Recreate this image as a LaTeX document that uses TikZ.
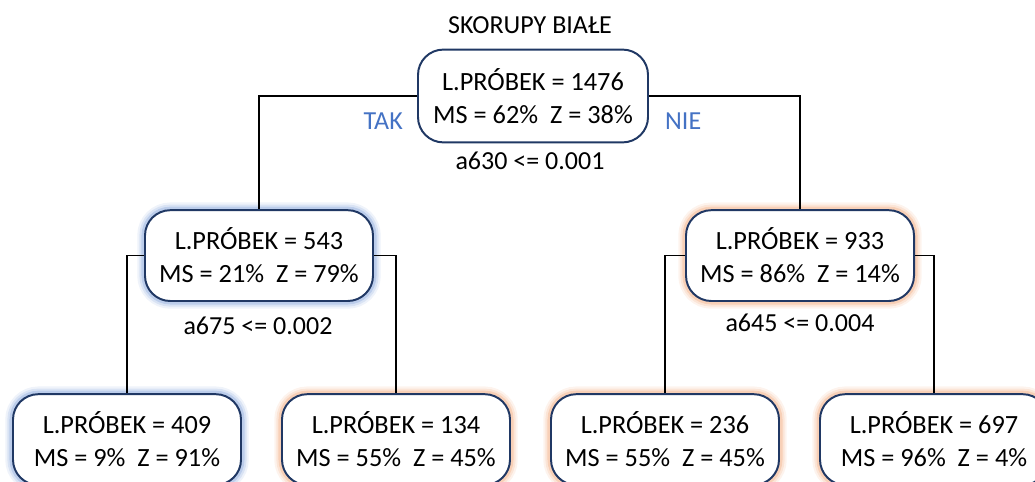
\documentclass[tikz,border=0pt]{standalone}
\usepackage{fontspec}
\setmainfont{Carlito}
\usepackage{xcolor}
\usepackage{tikz}
\usetikzlibrary{positioning}
\definecolor{boxnavy}{RGB}{32,56,100}
\definecolor{glowblue}{RGB}{120,155,215}
\definecolor{gloworange}{RGB}{240,160,110}
\definecolor{answerblue}{RGB}{68,114,196}

\begin{document}
\begin{tikzpicture}[
    treebox/.style={draw=boxnavy, line width=1.4pt, fill=white, rounded corners=18pt,
        align=center, minimum width=5.7cm, minimum height=2.27cm, inner sep=0pt,
        font=\fontsize{18.7}{23.5}\selectfont},
    glowL/.style={preaction={draw=glowblue, line width=11pt, opacity=.12},
        preaction={draw=glowblue, line width=8pt, opacity=.18},
        preaction={draw=glowblue, line width=5pt, opacity=.3}},
    glowR/.style={preaction={draw=gloworange, line width=11pt, opacity=.12},
        preaction={draw=gloworange, line width=8pt, opacity=.18},
        preaction={draw=gloworange, line width=5pt, opacity=.3}},
    cond/.style={font=\fontsize{18.5}{20}\selectfont},
    answer/.style={font=\fontsize{18.5}{20}\selectfont, text=answerblue},
    branch/.style={draw=black, line width=1.2pt}
]
    \useasboundingbox (0,0) rectangle (25.875,-12.05);
    \clip (0,0) rectangle (25.875,-12.05);
    % title
    \node[cond] (title) at (13.25,-0.63) {SKORUPY BIAŁE};
    % root split
    \node[treebox, minimum width=5.75cm, minimum height=2.32cm] (root) at (13.325,-2.4)
        {L.PRÓBEK = 1476\\MS = 62\%\ \ Z = 38\%};
    \node[cond] (c630) at (13.25,-4.03) {a630 <= 0.001};
    \node[answer] (tak) at (9.58,-3.03) {TAK};
    \node[answer] (nie) at (17.08,-3.03) {NIE};
    % second level
    \node[treebox, glowL] (lc) at (6.475,-6.39) {L.PRÓBEK = 543\\MS = 21\%\ \ Z = 79\%};
    \node[treebox, glowR] (rc) at (20.0,-6.39) {L.PRÓBEK = 933\\MS = 86\%\ \ Z = 14\%};
    \node[cond] (c675) at (6.45,-8.15) {a675 <= 0.002};
    \node[cond] (c645) at (20.0,-8.08) {a645 <= 0.004};
    % leaves
    \node[treebox, glowL] (ll) at (3.175,-10.99) {L.PRÓBEK = 409\\MS = 9\%\ \ Z = 91\%};
    \node[treebox, glowR] (lr) at (9.9,-10.99) {L.PRÓBEK = 134\\MS = 55\%\ \ Z = 45\%};
    \node[treebox, glowR] (rl) at (16.625,-10.99) {L.PRÓBEK = 236\\MS = 55\%\ \ Z = 45\%};
    \node[treebox, glowR] (rr) at (23.35,-10.99) {L.PRÓBEK = 697\\MS = 96\%\ \ Z = 4\%};
    % branches
    \draw[branch] (root.west) -| (lc.north);
    \draw[branch] (root.east) -| (rc.north);
    \draw[branch] (lc.west) -| (ll.north);
    \draw[branch] (lc.east) -| (lr.north);
    \draw[branch] (rc.west) -| (rl.north);
    \draw[branch] (rc.east) -| (rr.north);
\end{tikzpicture}
\end{document}
